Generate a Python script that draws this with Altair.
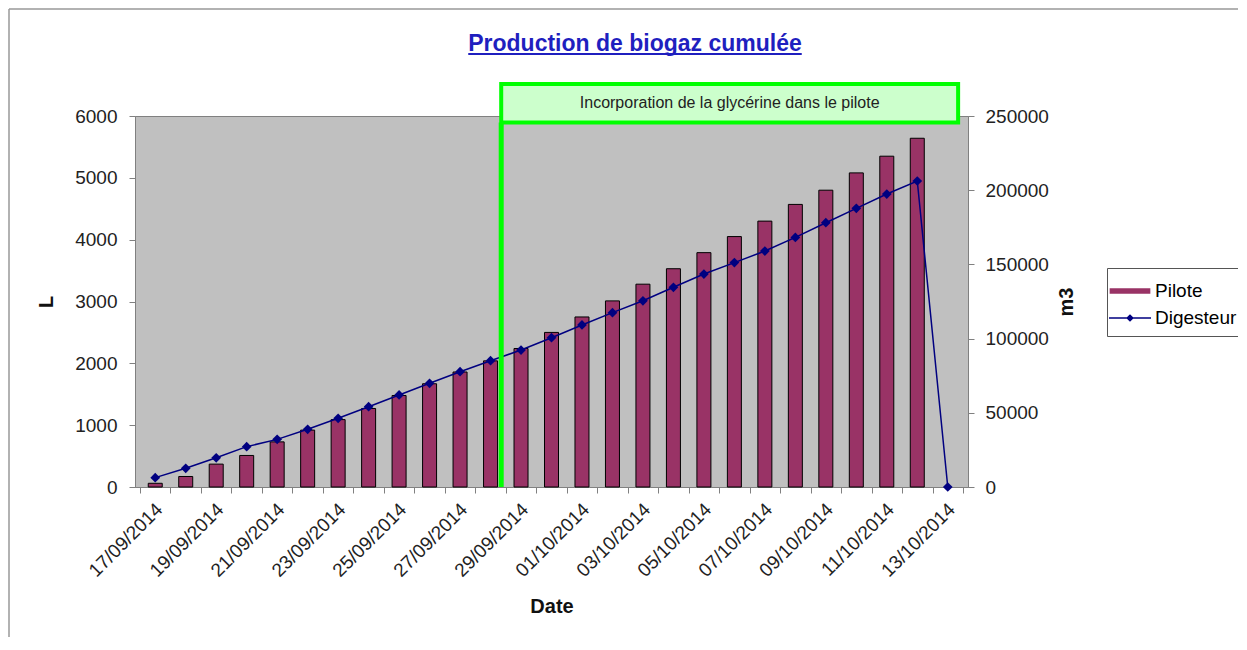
import json
import altair as alt
import pandas as pd

# ---------------- data ----------------
dates = [
    "17/09/2014", "18/09/2014", "19/09/2014", "20/09/2014", "21/09/2014",
    "22/09/2014", "23/09/2014", "24/09/2014", "25/09/2014", "26/09/2014",
    "27/09/2014", "28/09/2014", "29/09/2014", "30/09/2014", "01/10/2014",
    "02/10/2014", "03/10/2014", "04/10/2014", "05/10/2014", "06/10/2014",
    "07/10/2014", "08/10/2014", "09/10/2014", "10/10/2014", "11/10/2014",
    "12/10/2014", "13/10/2014",
]
pilote_L = [
    60, 170, 370, 510, 730, 920, 1090, 1270, 1480, 1670, 1860, 2040, 2240,
    2500, 2750, 3010, 3280, 3530, 3790, 4050, 4300, 4570, 4800, 5080, 5350,
    5640, None,
]
digesteur_m3 = [
    6300, 12600, 19700, 27200, 32100, 38900, 46300, 54100, 62000, 69900,
    77700, 85100, 92300, 100600, 109200, 117500, 125500, 134600, 143500,
    151200, 159000, 168200, 178100, 187800, 197400, 206200, 0,
]
series_names = ["Pilote", "Digesteur"]
left_ticks = [0, 1000, 2000, 3000, 4000, 5000, 6000]
right_ticks = [0, 50000, 100000, 150000, 200000, 250000]

chart_title = "Production de biogaz cumulée"
annotation_label = "Incorporation de la glycérine dans le pilote"
# annotation extent in data units (x: category index, y: litres)
ann_x_start, ann_x_end = 11.85, 26.84
ann_y_bottom, ann_y_top = 5895, 6517

# ---------------- layout / style ----------------
W, H = 833, 371
PAD = {"left": 127, "top": 108, "right": 270, "bottom": 150}
FONT = "Liberation Sans"
BAR_COLOR = "#993366"
LINE_COLOR = "#000080"
GREEN = "#00FF00"
TITLE_COLOR = "#1F1FBF"
TITLE_SIZE = 23

df = pd.DataFrame({"date": dates, "pilote": pilote_L, "digesteur": digesteur_m3})
df["xpos"] = df.index + 0.5
df_bar = df.dropna(subset=["pilote"]).assign(series=series_names[0])
df_line = df.assign(series=series_names[1])

n = len(dates)
x_scale = alt.Scale(domain=[0, n], nice=False, zero=False)
label_expr = (
    f"(datum.value % 2 == 0 && datum.value < {n}) ? "
    f"{json.dumps(dates)}[datum.value] : ''"
)
x_axis = alt.Axis(
    values=list(range(n + 1)), labelExpr=label_expr, labelAngle=315,
    labelAlign="right", labelBaseline="middle", labelOffset=19,
    labelPadding=13, labelFlush=False, labelOverlap=False,
    labelFontSize=19, labelColor="#222222", tickSize=6, tickColor="#808080",
    domainColor="#808080", grid=False, title="Date", titleFontSize=20,
    titleFontWeight="bold", titleColor="#111111", titlePadding=16,
)
yL_scale = alt.Scale(domain=[0, 6000], nice=False, zero=True)
yR_scale = alt.Scale(domain=[0, 250000], nice=False, zero=True)

rect_path = "M-1.4,-0.14H1.4V0.14H-1.4Z"
line_path = "M-1.5,0H1.5M0,-0.2L0.2,0L0,0.2L-0.2,0Z"
legend = alt.Legend(
    orient="none", legendX=972, legendY=152, title=None,
    strokeColor="#555555", fillColor="white", padding=8,
    labelFontSize=19, labelColor="black", labelOffset=10,
    symbolSize=784, symbolStrokeWidth=1.5, rowPadding=2,
    symbolType={"expr": f"datum.value === 'Pilote' ? '{rect_path}' : '{line_path}'"},
)
color = alt.Color(
    "series:N",
    scale=alt.Scale(domain=series_names, range=[BAR_COLOR, LINE_COLOR]),
    legend=legend,
)

bars = alt.Chart(df_bar).mark_bar(size=14, stroke="black", strokeWidth=1).encode(
    x=alt.X("xpos:Q", scale=x_scale, axis=x_axis),
    y=alt.Y("pilote:Q", scale=yL_scale, axis=alt.Axis(
        orient="left", values=left_ticks, format="d", tickSize=6,
        labelPadding=12, labelFontSize=19, labelColor="#222222",
        labelFlush=False, tickColor="#808080", domainColor="#808080",
        grid=False, title="L", titleFontSize=20, titleFontWeight="bold",
        titleColor="#111111", titlePadding=18)),
    color=color,
)

line = alt.Chart(df_line).mark_line(
    strokeWidth=1.5,
    point=alt.OverlayMarkDef(shape="diamond", size=95, filled=True, color=LINE_COLOR),
).encode(
    x=alt.X("xpos:Q", scale=x_scale, axis=x_axis),
    y=alt.Y("digesteur:Q", scale=yR_scale, axis=alt.Axis(
        orient="right", values=right_ticks, format="d", tickSize=6,
        labelPadding=11, labelFontSize=19, labelColor="#222222",
        labelFlush=False, tickColor="#808080", domainColor="#808080",
        grid=False, title="m3", titleFontSize=20, titleFontWeight="bold",
        titleColor="#111111", titleAngle=270, titleBaseline="top",
        titlePadding=8)),
    color=color,
)

ann_df = pd.DataFrame([{
    "x0": ann_x_start, "x1": ann_x_end, "y0": ann_y_bottom,
    "y1": ann_y_top, "ybase": 0, "label": annotation_label,
}])

green_rule = alt.Chart(ann_df).mark_rule(color=GREEN, strokeWidth=5).encode(
    x=alt.X("x0:Q", scale=x_scale, axis=x_axis),
    y=alt.Y("ybase:Q", scale=yL_scale, axis=None),
    y2="y0:Q",
)
green_box = alt.Chart(ann_df).mark_rect(
    fill="#CCFFCC", stroke=GREEN, strokeWidth=4
).encode(
    x=alt.X("x0:Q", scale=x_scale, axis=x_axis), x2="x1:Q",
    y=alt.Y("y0:Q", scale=yL_scale, axis=None), y2="y1:Q",
)
green_text = alt.Chart(ann_df).transform_calculate(
    xc="(datum.x0 + datum.x1) / 2", yc="(datum.y0 + datum.y1) / 2"
).mark_text(fontSize=16, color="#222222", baseline="middle").encode(
    x=alt.X("xc:Q", scale=x_scale, axis=x_axis),
    y=alt.Y("yc:Q", scale=yL_scale, axis=None),
    text="label:N",
)

title_df = pd.DataFrame({"t": [chart_title]})
title_cx = 500
title_half = 14.5 * TITLE_SIZE / 2
title_text = alt.Chart(title_df).mark_text(
    fontSize=TITLE_SIZE, fontWeight="bold", color=TITLE_COLOR,
    align="center", baseline="alphabetic",
).encode(x=alt.value(title_cx), y=alt.value(-65), text="t:N")
title_underline = alt.Chart(title_df).mark_rule(
    color=TITLE_COLOR, strokeWidth=2
).encode(
    x=alt.value(title_cx - title_half), x2=alt.value(title_cx + title_half),
    y=alt.value(-62),
)

frame_top = alt.Chart(title_df).mark_rule(color="#999999", strokeWidth=1.5).encode(
    x=alt.value(-PAD["left"] + 1), x2=alt.value(W + PAD["right"]),
    y=alt.value(-PAD["top"] + 1),
)
frame_left = alt.Chart(title_df).mark_rule(color="#999999", strokeWidth=1.5).encode(
    x=alt.value(-PAD["left"] + 1), y=alt.value(-PAD["top"] + 1),
    y2=alt.value(H + PAD["bottom"]),
)

chart = alt.layer(
    bars, line, green_box, green_rule, green_text,
    title_text, title_underline, frame_top, frame_left,
).resolve_scale(y="independent").properties(
    width=W, height=H,
    autosize=alt.AutoSizeParams(type="none"),
    padding=PAD,
).configure(font=FONT).configure_view(
    fill="#C0C0C0", stroke="#808080", strokeWidth=1
)

chart.save("out.html", embed_options={"renderer": "svg", "actions": False})
